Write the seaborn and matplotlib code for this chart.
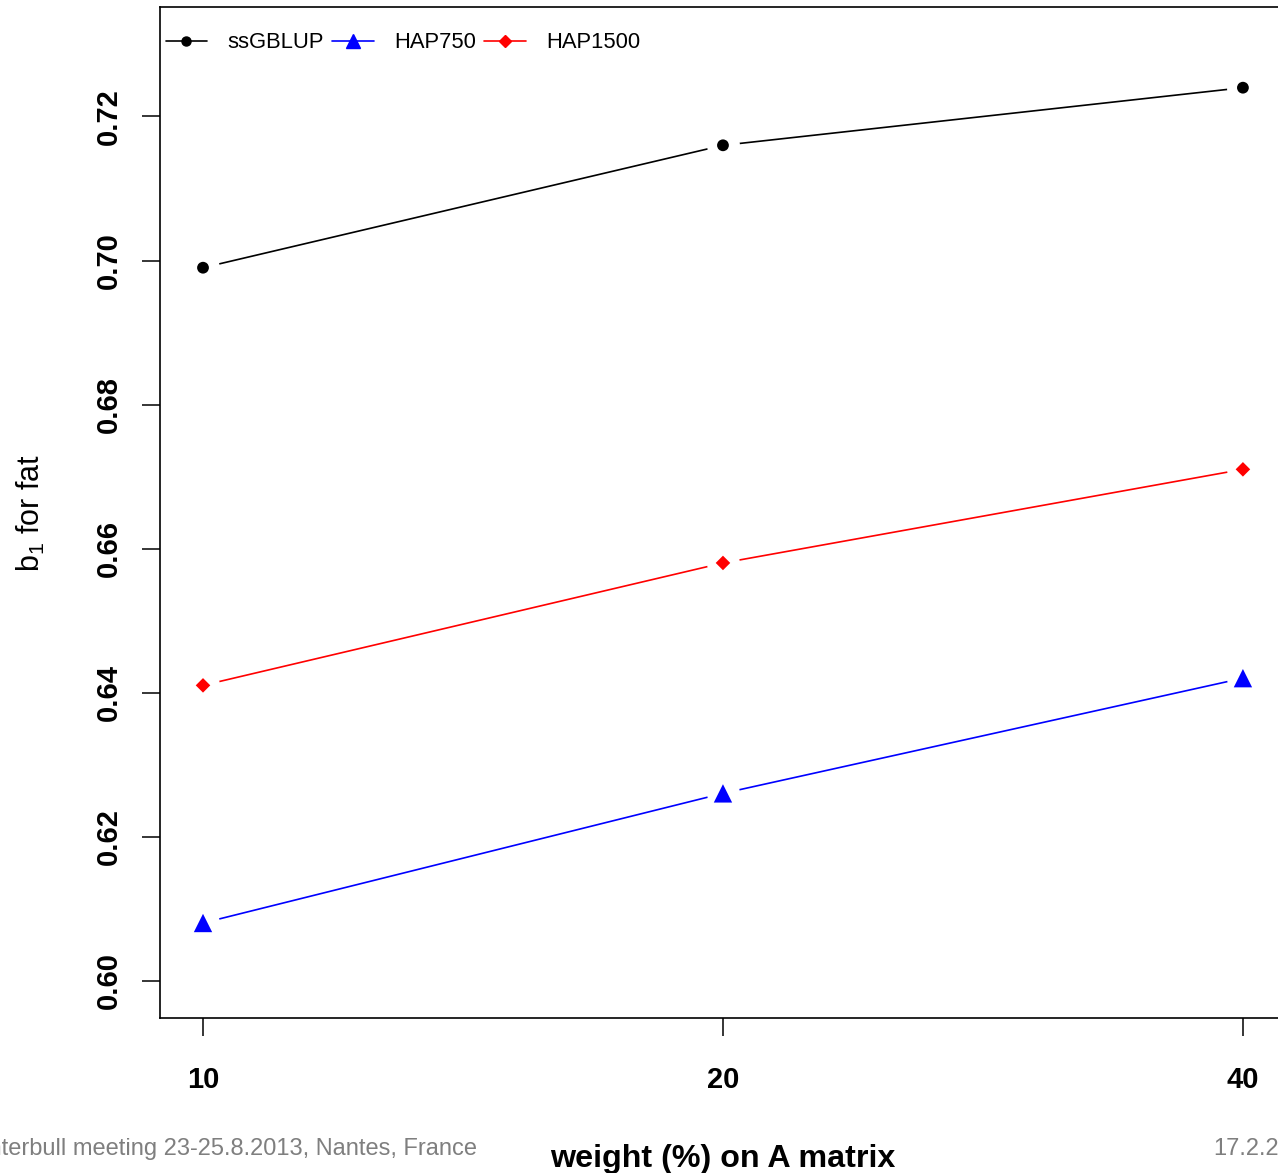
import numpy as np
import pandas as pd
import matplotlib
matplotlib.use("Agg")
import matplotlib.pyplot as plt
import seaborn as sns
from matplotlib.lines import Line2D

# ---------------- data ----------------
weights = ["10", "20", "40"]
methods = ["ssGBLUP", "HAP750", "HAP1500"]
ssgblup = [0.699, 0.716, 0.724]
hap750 = [0.608, 0.626, 0.642]
hap1500 = [0.641, 0.658, 0.671]
y_ticks = [0.60, 0.62, 0.64, 0.66, 0.68, 0.70, 0.72]

colors = {"ssGBLUP": "#000000", "HAP750": "#0000FF", "HAP1500": "#FF0000"}
markers = {"ssGBLUP": "o", "HAP750": "^", "HAP1500": "D"}
msizes = {"ssGBLUP": 72, "HAP750": 175, "HAP1500": 55}

rows = []
for m, vals in zip(methods, [ssgblup, hap750, hap1500]):
    for i, (w, v) in enumerate(zip(weights, vals)):
        rows.append({"method": m, "pos": i, "weight": w, "b1": v})
df = pd.DataFrame(rows)

# ---------------- style ----------------
sns.set_style("white")
plt.rcParams["font.family"] = ["Liberation Sans", "DejaVu Sans"]
plt.rcParams["mathtext.fontset"] = "custom"
plt.rcParams["mathtext.rm"] = "Liberation Sans"
plt.rcParams["text.color"] = "black"
plt.rcParams["axes.labelcolor"] = "black"

fig = plt.figure(figsize=(12.78, 11.73), dpi=100)
ax = fig.add_axes([0.1252, 0.1321, 0.881, 0.8619])

# lines
sns.lineplot(data=df, x="pos", y="b1", hue="method", palette=colors,
             hue_order=methods, linewidth=1.2, errorbar=None,
             legend=False, ax=ax, zorder=2)
# white gaps around points (R type="b")
sns.scatterplot(data=df, x="pos", y="b1", color="white", s=560, marker="o",
                linewidth=0, legend=False, ax=ax, zorder=3)
# points
sns.scatterplot(data=df, x="pos", y="b1", hue="method", style="method",
                size="method", palette=colors, markers=markers, sizes=msizes,
                hue_order=methods, style_order=methods, size_order=methods,
                linewidth=0, legend=False, ax=ax, zorder=4)

ax.set_xlim(-0.0827, 2.0827)
ax.set_ylim(0.5948, 0.7352)
ax.set_xticks(range(len(weights)))
ax.set_xticklabels(weights)
ax.set_yticks(y_ticks)
ax.set_yticklabels([f"{t:.2f}" for t in y_ticks])

for s in ax.spines.values():
    s.set_visible(True)
    s.set_color("black")
    s.set_linewidth(1.2)

ax.tick_params(axis="both", direction="out", length=13, width=1.1,
               color="black", labelsize=21, labelcolor="black",
               bottom=True, left=True, top=False, right=False)
ax.tick_params(axis="x", pad=21.5)
ax.tick_params(axis="y", pad=13.5, labelrotation=90)
for lab in ax.get_xticklabels() + ax.get_yticklabels():
    lab.set_fontweight("bold")
for lab in ax.get_yticklabels():
    lab.set_verticalalignment("center")

ax.set_xlabel("weight (%) on A matrix", fontsize=23.2, fontweight="bold",
              color="black")
ax.xaxis.set_label_coords(0.5, -0.125)
ax.set_ylabel(r"b$_\mathregular{1}$ for fat", fontsize=22, color="black")
ax.yaxis.label.set_verticalalignment("center")
ax.yaxis.set_label_coords(-0.1146, 0.5)

# legend
handles = [Line2D([], [], color=colors[m], marker=markers[m], linewidth=1.2,
                  markersize={"ssGBLUP": 6.5, "HAP750": 10, "HAP1500": 6.5}[m])
           for m in methods]
leg = ax.legend(handles, methods, loc="upper left", bbox_to_anchor=(0.005, 0.975),
                ncol=3, frameon=False, fontsize=15.8, handlelength=1.9,
                handletextpad=0.9, columnspacing=0.4, borderpad=0,
                borderaxespad=0)
for t in leg.get_texts():
    t.set_color("black")

# slide footer
fig.text(477 / 1278, 1 - 1155 / 1173, "Interbull meeting 23-25.8.2013, Nantes, France",
         ha="right", va="baseline", fontsize=17, color="#7f7f7f")
fig.text(1213 / 1278, 1 - 1155 / 1173, "17.2.2014",
         ha="left", va="baseline", fontsize=17, color="#7f7f7f")

fig.savefig("out.png", dpi=100)
